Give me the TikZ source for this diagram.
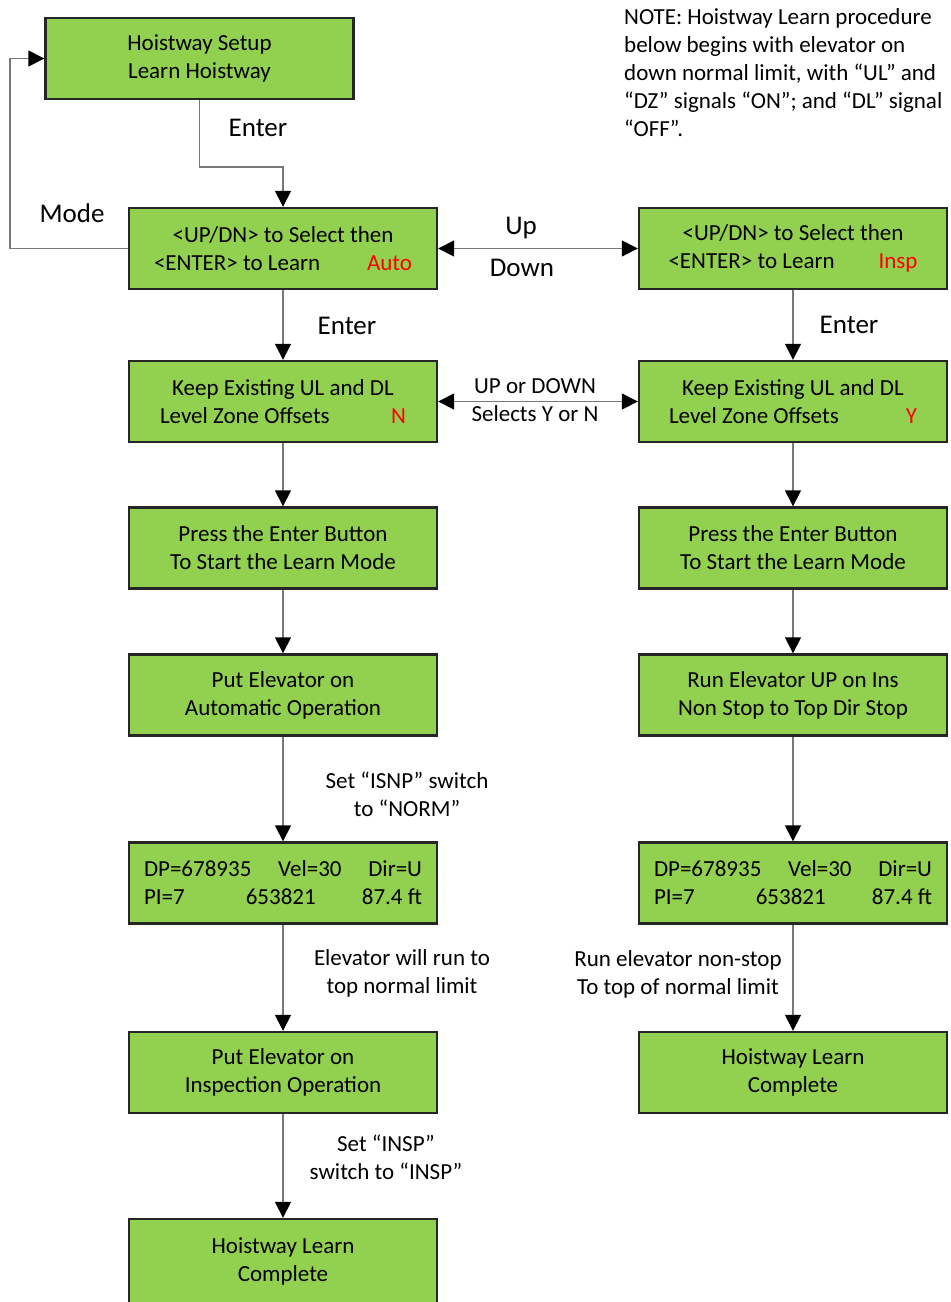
\documentclass[tikz,border=0pt]{standalone}
\usepackage{fontspec}
\setmainfont{Carlito}
\usepackage{tikz}
\usetikzlibrary{
  arrows.meta,
  positioning
}
\definecolor{BoxGreen}{RGB}{146,208,80}
\definecolor{LineGray}{RGB}{120,120,120}
\definecolor{PickRed}{RGB}{255,0,0}
\newcommand{\boxfont}{\fontsize{23}{28}\selectfont}
\newcommand{\tagfont}{\fontsize{27}{32}\selectfont}
\newcommand{\pick}[1]{\textcolor{PickRed}{#1}}
\tikzset{
  stepbox/.style={draw=black!85,line width=2.4pt,fill=BoxGreen,minimum width=308pt,minimum height=81pt,align=center,font=\boxfont,inner sep=0pt},
  flow/.style={-{Triangle[length=16pt,width=16pt,color=black]},line width=1.5pt,draw=LineGray},
  flowbi/.style={{Triangle[length=16pt,width=16pt,color=black]}-{Triangle[length=16pt,width=16pt,color=black]},line width=1.5pt,draw=LineGray},
  tag/.style={font=\tagfont,inner sep=0pt},
  note/.style={font=\boxfont,align=center,inner sep=0pt}
}

\begin{document}
\begin{tikzpicture}[x=1pt,y=-1pt]
\useasboundingbox (0,0) rectangle (951,1302);

\node[stepbox] (setup) at (199.5,58.5) {Hoistway Setup\\Learn Hoistway};
\node[stepbox] (selAuto) at (283,248.5) {<UP/DN> to Select then\\\makebox[258pt]{<ENTER> to Learn\hfill\pick{Auto}}};
\node[stepbox] (selInsp) at (793,248.5) {<UP/DN> to Select then\\\makebox[249pt]{<ENTER> to Learn\hfill\pick{Insp}}};
\node[stepbox] (keepN) at (283,401.5) {Keep Existing UL and DL\\\makebox[246pt]{Level Zone Offsets\hfill\pick{N}}};
\node[stepbox] (keepY) at (793,401.5) {Keep Existing UL and DL\\\makebox[248pt]{Level Zone Offsets\hfill\pick{Y}}};
\node[stepbox] (pressA) at (283,548) {Press the Enter Button\\To Start the Learn Mode};
\node[stepbox] (pressI) at (793,548) {Press the Enter Button\\To Start the Learn Mode};
\node[stepbox] (autoOp) at (283,695) {Put Elevator on\\Automatic Operation};
\node[stepbox] (runUp) at (793,695) {Run Elevator UP on Ins\\Non Stop to Top Dir Stop};
\node[stepbox] (dispA) at (283,883) {\makebox[278pt]{DP=678935\hfill Vel=30\hfill Dir=U}\\\makebox[278pt]{PI=7\hspace{61pt}653821\hfill 87.4 ft}};
\node[stepbox] (dispI) at (793,883) {\makebox[278pt]{DP=678935\hfill Vel=30\hfill Dir=U}\\\makebox[278pt]{PI=7\hspace{61pt}653821\hfill 87.4 ft}};
\node[stepbox] (inspOp) at (283,1072.5) {Put Elevator on\\Inspection Operation};
\node[stepbox] (doneI) at (793,1072.5) {Hoistway Learn\\Complete};
\node[stepbox,minimum height=84pt] (doneA) at (283,1261) {Hoistway Learn\\Complete};

% note in the corner
\node[font=\boxfont,align=left,inner sep=0pt,anchor=north west] (hint) at (624,8.5)
  {NOTE: Hoistway Learn procedure\\below begins with elevator on\\down normal limit, with “UL” and\\“DZ” signals “ON”; and “DL” signal\\“OFF”.};

% connector labels
\node[tag] (entA) at (258,128) {Enter};
\node[tag] (mode) at (72,213) {Mode};
\node[tag] (up) at (521,228) {Up};
\node[tag] (down) at (522,268) {Down};
\node[tag] (entB) at (347,326) {Enter};
\node[tag] (entC) at (849,325) {Enter};
\node[note] (updn) at (535,400) {UP or DOWN\\Selects Y or N};
\node[note] (isnp) at (407,794) {Set “ISNP” switch\\to “NORM”};
\node[note] (elev) at (402,973) {Elevator will run to\\top normal limit};
\node[note] (insp) at (386,1157) {Set “INSP”\\switch to “INSP”};
\node[note] (nonstop) at (678,974) {Run elevator non-stop\\To top of normal limit};

\draw[flow] (setup.south) -- ++(0,67) -| (selAuto.north);
\draw[flow] (selAuto.west) -- ++(-118,0) |- (setup.west);
\draw[flowbi] (selAuto) -- (selInsp);
\draw[flowbi] (keepN) -- (keepY);

\draw[flow] (selAuto) -- (keepN);
\draw[flow] (keepN) -- (pressA);
\draw[flow] (pressA) -- (autoOp);
\draw[flow] (autoOp) -- (dispA);
\draw[flow] (dispA) -- (inspOp);
\draw[flow] (inspOp) -- (doneA);

\draw[flow] (selInsp) -- (keepY);
\draw[flow] (keepY) -- (pressI);
\draw[flow] (pressI) -- (runUp);
\draw[flow] (runUp) -- (dispI);
\draw[flow] (dispI) -- (doneI);
\end{tikzpicture}
\end{document}
